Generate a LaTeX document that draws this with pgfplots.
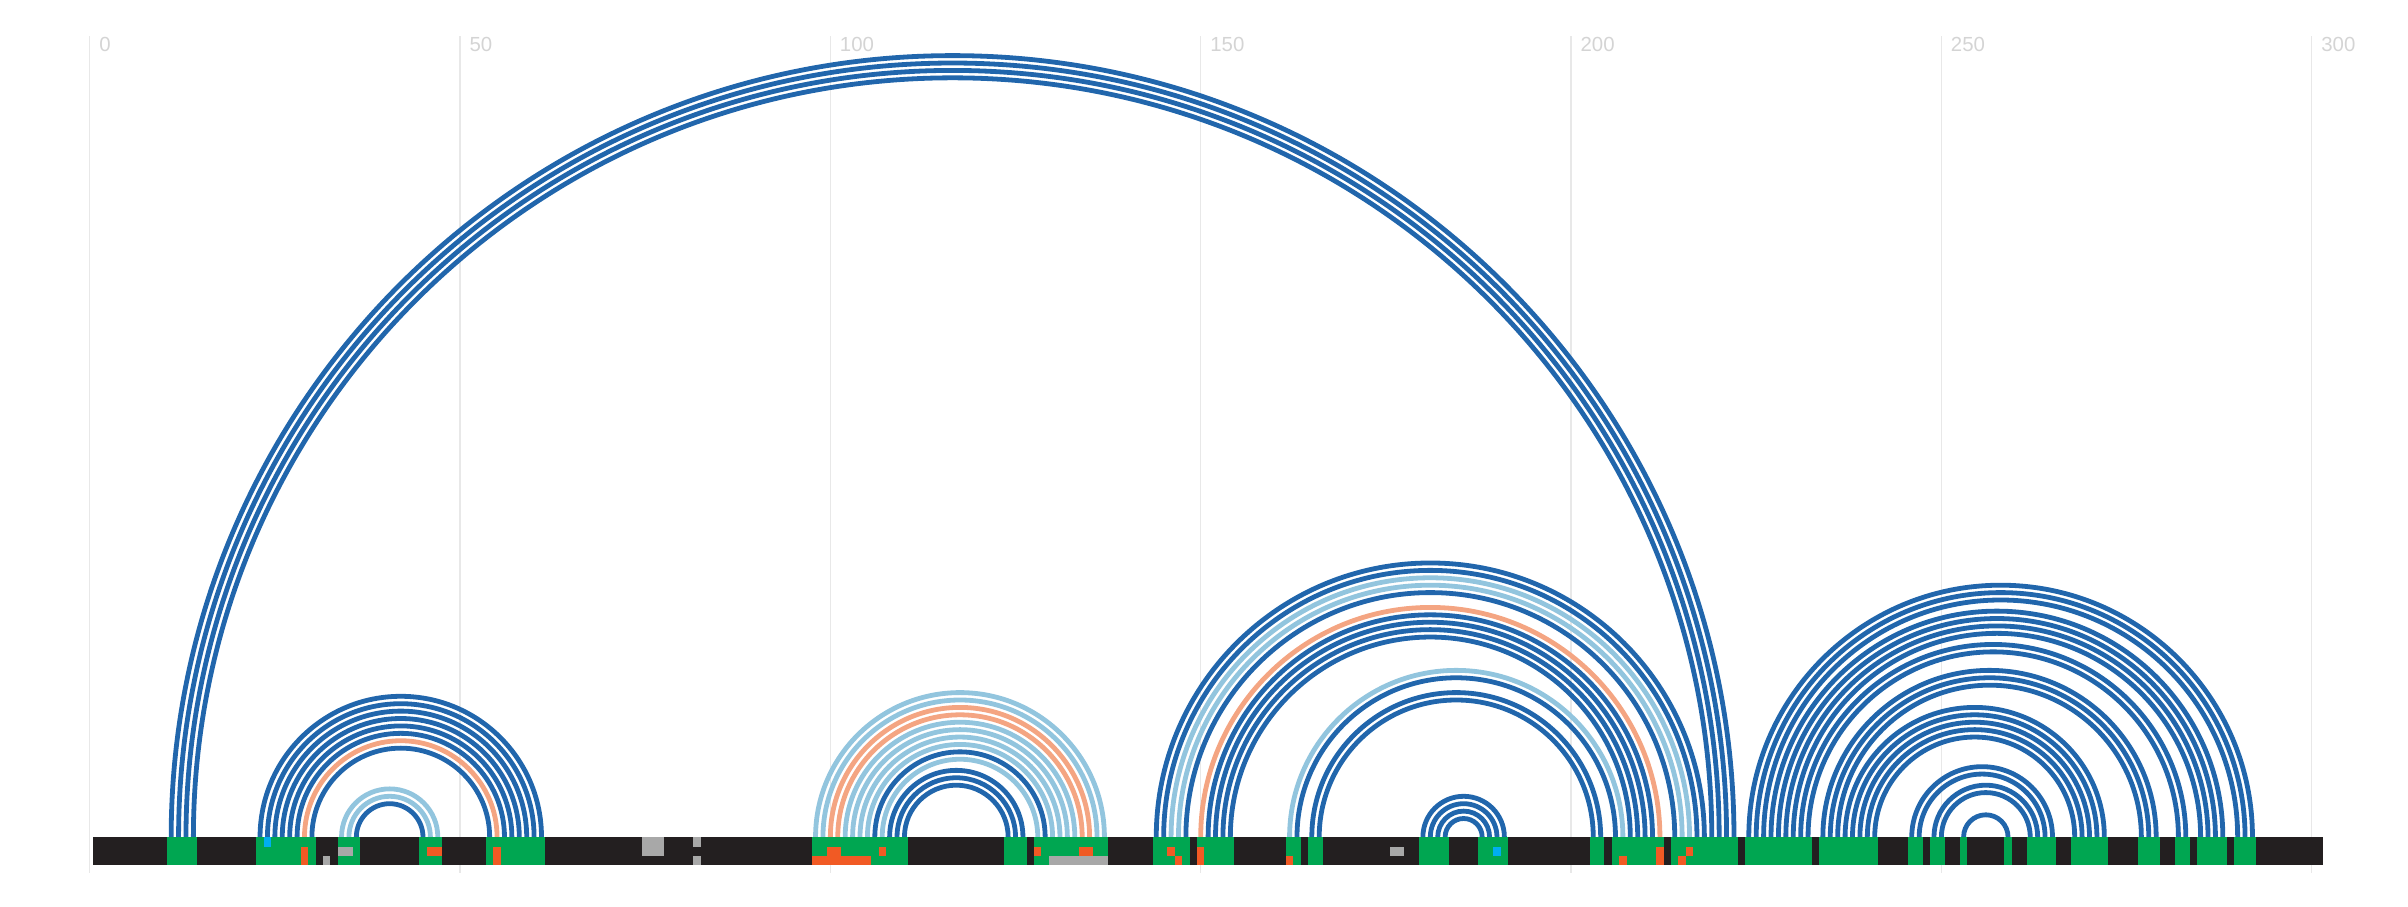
\documentclass[border=0pt]{standalone}
\usepackage{fontspec}
\setmainfont{Liberation Sans}
\usepackage{pgfplots}
\usepackage{pgfplotstable}
\pgfplotsset{compat=1.18}

\definecolor{cdark}{RGB}{33,102,172}
\definecolor{clight}{RGB}{146,197,222}
\definecolor{csalmon}{RGB}{244,165,130}
\definecolor{cblack}{RGB}{35,31,32}
\definecolor{cgreen}{RGB}{0,166,81}
\definecolor{corange}{RGB}{241,90,36}
\definecolor{cgray}{RGB}{168,168,168}
\definecolor{ccyan}{RGB}{0,174,239}
\definecolor{cgrid}{RGB}{232,232,232}
\definecolor{clabel}{RGB}{212,212,212}

\tikzset{
  arc0/.style={draw=cdark, line width=1.2pt},
  arc1/.style={draw=clight, line width=1.2pt},
  arc2/.style={draw=csalmon, line width=1.2pt},
}

% base pairs: i j colour (0 dark blue, 1 light blue, 2 salmon)
\pgfplotstableread{
i j c
11 222 0
12 221 0
13 220 0
14 219 0
23 61 0
24 60 0
25 59 0
26 58 0
27 57 0
28 56 0
29 55 2
30 54 0
34 47 1
35 46 1
36 45 0
98 137 1
99 136 1
100 135 2
101 134 2
102 133 1
103 132 1
104 131 1
105 130 1
106 129 0
107 128 1
108 126 0
109 125 0
110 124 0
144 218 0
145 217 0
146 216 1
147 215 1
148 214 0
150 212 2
151 211 0
152 210 0
153 209 0
154 208 0
162 207 1
163 206 0
165 204 0
166 203 0
180 191 0
181 190 0
182 189 0
183 188 0
224 292 0
225 291 0
226 290 0
227 288 0
228 287 0
229 286 0
230 285 0
231 283 0
232 282 0
234 279 0
235 278 0
236 277 0
237 272 0
238 271 0
239 270 0
240 269 0
241 268 0
246 265 0
247 264 0
249 263 0
250 262 0
253 259 0
}\arcs

% sequence track: first and last position, band (y0 y1), colour
\pgfplotstableread{
s e y0 y1 col
1 301 -3.78 0 cblack
11 14 -3.78 0 cgreen
23 30 -3.78 0 cgreen
34 36 -3.78 0 cgreen
45 47 -3.78 0 cgreen
54 61 -3.78 0 cgreen
98 110 -3.78 0 cgreen
124 126 -3.78 0 cgreen
128 137 -3.78 0 cgreen
144 148 -3.78 0 cgreen
150 154 -3.78 0 cgreen
162 163 -3.78 0 cgreen
165 166 -3.78 0 cgreen
180 183 -3.78 0 cgreen
188 191 -3.78 0 cgreen
203 204 -3.78 0 cgreen
206 212 -3.78 0 cgreen
214 222 -3.78 0 cgreen
224 232 -3.78 0 cgreen
234 241 -3.78 0 cgreen
246 247 -3.78 0 cgreen
249 250 -3.78 0 cgreen
253 253 -3.78 0 cgreen
259 259 -3.78 0 cgreen
262 265 -3.78 0 cgreen
268 272 -3.78 0 cgreen
277 279 -3.78 0 cgreen
282 283 -3.78 0 cgreen
285 288 -3.78 0 cgreen
290 292 -3.78 0 cgreen
24 24 -1.35 0 ccyan
190 190 -2.565 -1.35 ccyan
29 29 -3.78 -1.35 corange
46 47 -2.565 -1.35 corange
55 55 -3.78 -1.35 corange
98 105 -3.78 -2.565 corange
100 101 -2.565 -1.35 corange
107 107 -2.565 -1.35 corange
128 128 -2.565 -1.35 corange
134 135 -2.565 -1.35 corange
146 146 -2.565 -1.35 corange
147 147 -3.78 -2.565 corange
150 150 -3.78 -1.35 corange
162 162 -3.78 -2.565 corange
207 207 -3.78 -2.565 corange
212 212 -3.78 -1.35 corange
215 215 -3.78 -2.565 corange
216 216 -2.565 -1.35 corange
32 32 -3.78 -2.565 cgray
34 35 -2.565 -1.35 cgray
75 77 -2.565 0 cgray
82 82 -1.35 0 cgray
82 82 -3.78 -2.565 cgray
130 137 -3.78 -2.565 cgray
176 177 -2.565 -1.35 cgray
}\cells

\begin{document}
\begin{tikzpicture}
\begin{axis}[
    x=1.851675pt, y=1.851675pt,
    xmin=-12.11, xmax=313.0,
    ymin=-4.86, ymax=108.15,
    clip=false,
    axis line style={draw=none},
    major tick length=0pt,
    xtick={0,50,...,300},
    ytick=\empty,
    xmajorgrids=true,
    grid style={color=cgrid, line width=0.35pt},
    xticklabel pos=upper,
    xticklabel style={font=\fontsize{5.1}{5.5}\selectfont, text=clabel,
        anchor=north west, inner sep=0pt, xshift=2.2pt},
    /pgf/number format/assume math mode=true,
]
% arcs
\pgfplotstablegetrowsof{\arcs}
\pgfmathtruncatemacro\lastrow{\pgfplotsretval-1}
\pgfplotsforeachungrouped \k in {0,...,\lastrow}{%
    \pgfplotstablegetelem{\k}{i}\of\arcs \let\ai\pgfplotsretval
    \pgfplotstablegetelem{\k}{j}\of\arcs \let\aj\pgfplotsretval
    \pgfplotstablegetelem{\k}{c}\of\arcs \let\ac\pgfplotsretval
    \pgfmathsetmacro\cc{(\ai+\aj)/2}%
    \pgfmathsetmacro\rr{(\aj-\ai)/2}%
    \pgfmathsetmacro\kr{0.55228*\rr}%
    \pgfmathsetmacro\cm{\cc-\kr}%
    \pgfmathsetmacro\cp{\cc+\kr}%
    \edef\temp{\noexpand\draw[arc\ac] (axis cs:\ai,0)
        .. controls (axis cs:\ai,\kr) and (axis cs:\cm,\rr) .. (axis cs:\cc,\rr)
        .. controls (axis cs:\cp,\rr) and (axis cs:\aj,\kr) .. (axis cs:\aj,0);}%
    \temp
}
% sequence track
\pgfplotstablegetrowsof{\cells}
\pgfmathtruncatemacro\lastcell{\pgfplotsretval-1}
\pgfplotsforeachungrouped \k in {0,...,\lastcell}{%
    \pgfplotstablegetelem{\k}{s}\of\cells \let\cs\pgfplotsretval
    \pgfplotstablegetelem{\k}{e}\of\cells \let\ce\pgfplotsretval
    \pgfplotstablegetelem{\k}{y0}\of\cells \let\cya\pgfplotsretval
    \pgfplotstablegetelem{\k}{y1}\of\cells \let\cyb\pgfplotsretval
    \pgfplotstablegetelem{\k}{col}\of\cells \let\ccol\pgfplotsretval
    \pgfmathsetmacro\xa{\cs-0.5}%
    \pgfmathsetmacro\xb{\ce+0.5}%
    \edef\temp{\noexpand\fill[\ccol] (axis cs:\xa,\cya) rectangle (axis cs:\xb,\cyb);}%
    \temp
}
\end{axis}
\path ([yshift=-8.25pt]current axis.south west) rectangle ([yshift=9pt]current axis.north east);
\end{tikzpicture}
\end{document}
